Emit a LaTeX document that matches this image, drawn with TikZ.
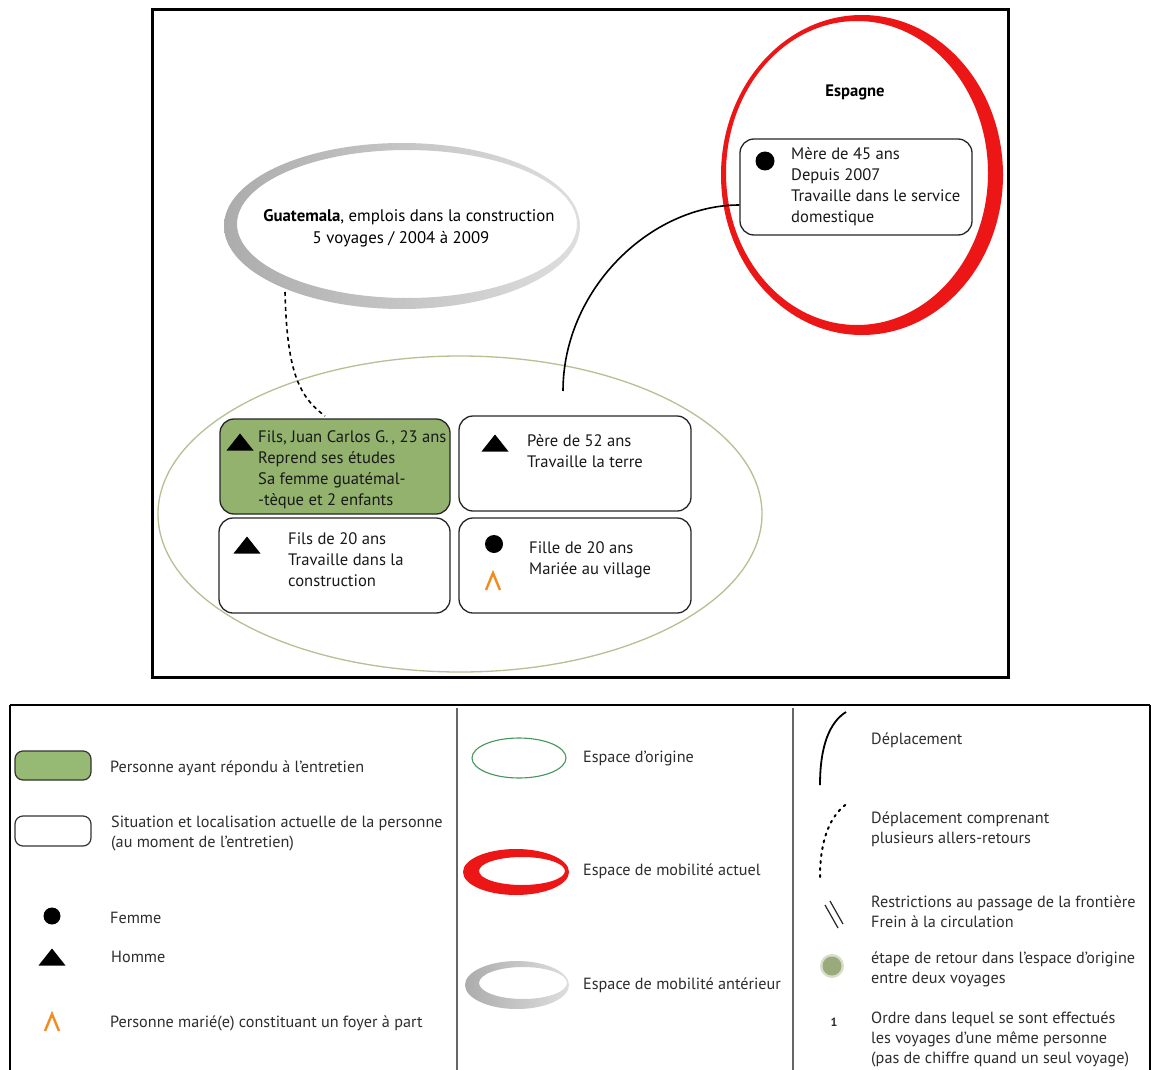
\documentclass[tikz,border=0pt]{standalone}
\usepackage{fontspec}
\setmainfont{PT Sans}
\definecolor{jcgreen}{RGB}{146,178,110}
\definecolor{legreen}{RGB}{150,186,116}
\definecolor{origgreen}{RGB}{182,192,146}
\definecolor{legorig}{RGB}{70,150,90}
\definecolor{mobred}{RGB}{236,22,22}
\definecolor{antgray}{RGB}{172,172,172}
\definecolor{antgraylt}{RGB}{222,222,222}
\definecolor{legantgray}{RGB}{192,192,192}
\definecolor{caretor}{RGB}{242,140,30}
\definecolor{legtxt}{RGB}{45,45,45}
\definecolor{etapegreen}{RGB}{140,158,104}
\newcommand\mkhomme[1]{\fill[black,shift={#1}] (-13.5,8.5) -- (0,-8.5) -- (13.5,8.5) -- cycle;}
\newcommand\mkcaret[1]{\draw[caretor,line width=2.4pt,shift={#1}] (-7,9) -- (0,-8) -- (7,9);}
\begin{document}
\begin{tikzpicture}[x=1pt,y=-1pt,
  box/.style={draw=black!85,line width=1.3pt,rounded corners=14pt,inner sep=0pt,fill=white},
  btxt/.style={font=\fontsize{16.6}{21}\selectfont,align=left,anchor=west,inner sep=0pt,text=black!90},
  ltxt/.style={font=\fontsize{16.2}{20}\selectfont,align=left,anchor=west,inner sep=0pt,text=legtxt},
  femme/.style={circle,fill=black,inner sep=0pt,minimum size=#1},
  frame/.style={draw=black,line width=3pt}]
\useasboundingbox (0,0) rectangle (1151,1070);
\fill[white] (0,0) rectangle (1151,1070);

% ---------- top frame ----------
\draw[frame] (152,10) rectangle (1008,677);

% spaces
\draw[origgreen,line width=1.3pt] (460,514) ellipse [x radius=302pt,y radius=158pt];
\shade[even odd rule,left color=antgray,right color=antgraylt] (402,226) ellipse [x radius=178pt,y radius=83pt]
      (407,224) ellipse [x radius=170pt,y radius=74pt];
\fill[mobred,even odd rule] (862,175) ellipse [x radius=141pt,y radius=160pt]
      (857,173) ellipse [x radius=131pt,y radius=152pt];

% labels of spaces
\node[font=\fontsize{16.6}{21}\selectfont\bfseries,inner sep=0pt] (esp) at (855,92) {Espagne};
\node[font=\fontsize{16.8}{21}\selectfont,inner sep=0pt] (guat1) at (409,217) {\textbf{Guatemala}, emplois dans la construction};
\node[font=\fontsize{16.8}{21}\selectfont,inner sep=0pt] (guat2) at (401,239) {5 voyages / 2004 à 2009};

% boxes
\node[box,fill=jcgreen,minimum width=230pt,minimum height=95pt] (jc) at (335,466.5) {};
\node[box,minimum width=232pt,minimum height=95pt] (pere) at (575,463.5) {};
\node[box,minimum width=231pt,minimum height=95pt] (fils) at (334.5,565.5) {};
\node[box,minimum width=232pt,minimum height=95pt] (fille) at (575,565.5) {};
\node[box,minimum width=232pt,minimum height=96pt] (mere) at (856,187) {};

% box texts and symbols
\mkhomme{(240,442)}
\node[btxt] (jct) at (258,469.5) {Fils, Juan Carlos G.\,, 23 ans\\Reprend ses études\\Sa femme guatémal-\\-tèque et 2 enfants};
\mkhomme{(495,443)}
\node[btxt] (peret) at (527,451.5) {Père de 52 ans\\Travaille la terre};
\mkhomme{(247,545)}
\node[btxt] (filst) at (288,560) {Fils de 20 ans\\Travaille dans la\\construction};
\node[femme=18pt] (filled) at (494,544) {};
\mkcaret{(493,581)}
\node[btxt] (fillet) at (529,559.5) {Fille de 20 ans\\Mariée au village};
\node[femme=19pt] (mered) at (765,161) {};
\node[btxt] (meret) at (791,186.5) {Mère de 45 ans\\Depuis 2007\\Travaille dans le service\\domestique};

% connectors
\coordinate (gbot) at (285,292);
\coordinate (jctop) at (325,416);
\draw[black,line width=1.6pt,dash pattern=on 4pt off 3.5pt] (gbot) .. controls (287,370) and (298,396) .. (jctop);
\coordinate (pst) at (563,391);
\draw[black,line width=1.6pt] (pst) .. controls (563,290) and (650,205) .. ([yshift=-18pt]mere.west);

% ---------- legend ----------
\draw[frame,line width=2.5pt] (10,705) -- (1150,705);
\draw[frame,line width=2.5pt] (10,705) -- (10,1075);
\draw[frame,line width=2.5pt] (1150,705) -- (1150,1075);
\draw[black!60,line width=1.5pt] (457,708) -- (457,1075);
\draw[black!60,line width=1.5pt] (793,708) -- (793,1075);

% column 1
\node[draw=black!80,line width=1.2pt,rounded corners=8pt,fill=legreen,minimum width=76pt,minimum height=29pt] (lgbox) at (53,765.5) {};
\node[ltxt] (lgt) at (110,768) {Personne ayant répondu à l’entretien};
\node[draw=black!80,line width=1.2pt,rounded corners=8pt,fill=white,minimum width=76pt,minimum height=30pt] (lwbox) at (53,831) {};
\node[ltxt] (lwt) at (111,834) {Situation et localisation actuelle de la personne\\(au moment de l’entretien)};
\node[femme=17pt] (lfd) at (52,916) {};
\node[ltxt] (lft) at (110,918) {Femme};
\mkhomme{(52,957)}
\node[ltxt] (lht) at (111,957) {Homme};
\mkcaret{(52,1022)}
\node[ltxt] (lct) at (110,1023) {Personne marié(e) constituant un foyer à part};

% column 2
\draw[legorig,line width=1.1pt] (519,758) ellipse [x radius=47pt,y radius=20pt];
\node[ltxt] (lot) at (583,758) {Espace d’origine};
\fill[mobred,even odd rule] (516,872) ellipse [x radius=53pt,y radius=23pt]
      (522,871) ellipse [x radius=43pt,y radius=14pt];
\node[ltxt] (lat) at (583,871) {Espace de mobilité actuel};
\shade[even odd rule,left color=antgray,right color=antgraylt] (517,985) ellipse [x radius=52pt,y radius=24pt]
      (523,983) ellipse [x radius=44pt,y radius=16pt];
\node[ltxt] (lant) at (583,985) {Espace de mobilité antérieur};

% column 3
\coordinate (d1a) at (820,785);
\coordinate (d1b) at (846,712);
\draw[black,line width=1.8pt] (d1a) .. controls (820,745) and (830,722) .. (d1b);
\node[ltxt] (ldt) at (871,740) {Déplacement};
\coordinate (d2a) at (820,877);
\coordinate (d2b) at (848,803);
\draw[black,line width=2pt,dash pattern=on 2pt off 5pt,line cap=round] (d2a) .. controls (820,840) and (830,815) .. (d2b);
\node[ltxt] (ldrt) at (871,829) {Déplacement comprenant\\plusieurs allers-retours};
\draw[black!85,line width=1.2pt] (825,905) -- (838,928) (830,901) -- (843,924);
\node[ltxt] (lrt) at (871,911.5) {Restrictions au passage de la frontière\\Frein à la circulation};
\fill[etapegreen,opacity=0.35] (832,966) circle (12pt);
\fill[etapegreen,opacity=0.8] (832,966) circle (9.5pt);
\node[ltxt] (let) at (871,969) {étape de retour dans l’espace d’origine\\entre deux voyages};
\node[font=\fontsize{12}{14}\selectfont\bfseries,inner sep=0pt,text=legtxt] (lone) at (834,1022) {1};
\node[ltxt] (lnt) at (871,1039) {Ordre dans lequel se sont effectués\\les voyages d’une même personne\\(pas de chiffre quand un seul voyage)};
\end{tikzpicture}
\end{document}
